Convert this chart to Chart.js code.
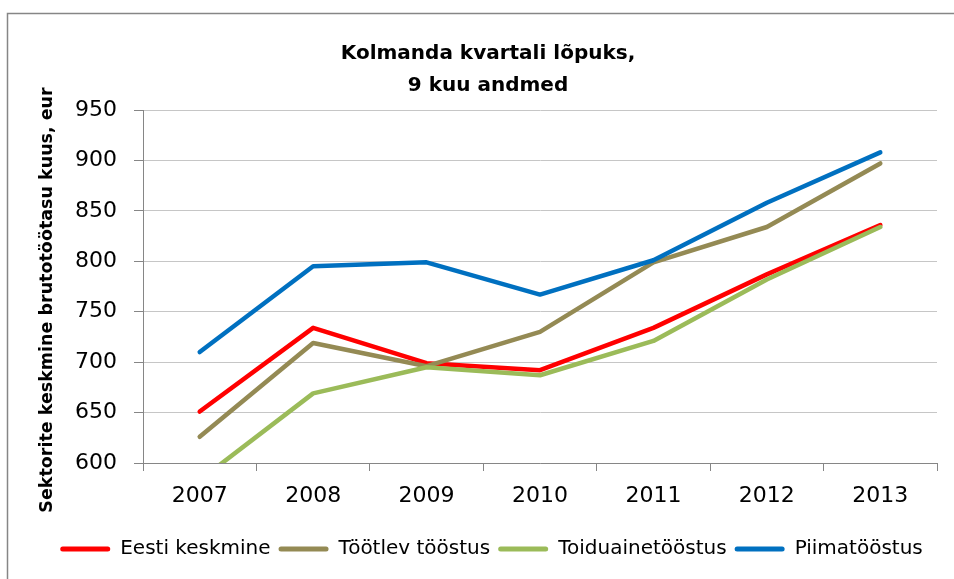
<!DOCTYPE html>
<html>
<head>
<meta charset="utf-8">
<script src="https://cdn.jsdelivr.net/npm/chart.js@4/dist/chart.umd.min.js"></script>
<style>
  html, body { margin: 0; padding: 0; background: #ffffff; }
  #wrap { width: 954px; height: 579px; position: relative; }
</style>
</head>
<body>
<div id="wrap"><canvas id="c" width="954" height="579"></canvas></div>
<script>
const categories = ["2007", "2008", "2009", "2010", "2011", "2012", "2013"];
const seriesNames = ["Eesti keskmine", "Töötlev tööstus", "Toiduainetööstus", "Piimatööstus"];
const eestiKeskmine = [651, 734, 699, 692, 734, 787, 836];
const tootlevToostus = [626, 719, 696, 730, 799, 834, 897];
const toiduaineToostus = [583, 669, 695, 687, 721, 782, 834];
const piimaToostus = [710, 795, 799, 767, 801, 858, 908];
const titleLines = ["Kolmanda kvartali lõpuks,", "9 kuu andmed"];
const yAxisTitle = "Sektorite keskmine brutotöötasu kuus, eur";
const yMin = 600, yMax = 950, yStep = 50;

const colors = ["#FF0000", "#948A54", "#9BBB59", "#0070C0"];
const seriesValues = [eestiKeskmine, tootlevToostus, toiduaineToostus, piimaToostus];
const FONT = "'DejaVu Sans', sans-serif";

const decorPlugin = {
  id: 'decor',
  afterLayout(chart) {
    const lg = chart.legend;
    if (lg) { lg.left += 23; lg.right += 23; }
  },
  beforeDraw(chart) {
    const ctx = chart.ctx;
    ctx.save();
    ctx.fillStyle = '#ffffff';
    ctx.fillRect(0, 0, chart.width, chart.height);
    ctx.strokeStyle = '#868686';
    ctx.lineWidth = 1.5;
    ctx.beginPath();
    ctx.moveTo(7.5, chart.height + 2);
    ctx.lineTo(7.5, 13.5);
    ctx.lineTo(chart.width + 2, 13.5);
    ctx.stroke();
    ctx.restore();
  },
  afterDraw(chart) {
    const ctx = chart.ctx;
    ctx.save();
    ctx.fillStyle = '#000000';
    ctx.font = "bold 20px " + FONT;
    ctx.textAlign = 'center';
    ctx.textBaseline = 'alphabetic';
    ctx.fillText(titleLines[0], 488, 59);
    ctx.fillText(titleLines[1], 488, 91);
    ctx.translate(52, 300);
    ctx.rotate(-Math.PI / 2);
    ctx.font = "bold 17.5px " + FONT;
    ctx.textBaseline = 'alphabetic';
    ctx.fillText(yAxisTitle, 0, 0);
    ctx.restore();
  }
};

const datasets = seriesNames.map((name, i) => ({
  label: name,
  data: seriesValues[i],
  borderColor: colors[i],
  backgroundColor: colors[i],
  borderWidth: 4.5,
  borderCapStyle: 'round',
  borderJoinStyle: 'round',
  pointRadius: 0,
  pointHoverRadius: 0,
  tension: 0,
  fill: false,
  clip: 0,
  order: seriesNames.length - i
}));

new Chart(document.getElementById('c'), {
  type: 'line',
  data: { labels: categories, datasets: datasets },
  plugins: [decorPlugin],
  options: {
    responsive: false,
    animation: false,
    events: [],
    layout: { padding: { top: 110, right: 17, bottom: 10, left: 0 } },
    plugins: {
      title: { display: false },
      tooltip: { enabled: false },
      legend: {
        display: true,
        position: 'bottom',
        labels: {
          boxWidth: 50,
          boxHeight: 5,
          padding: 8,
          color: '#000000',
          font: { family: FONT, size: 20 },
          useBorderRadius: true,
          borderRadius: 2.5,
          sort: (a, b) => a.datasetIndex - b.datasetIndex,
          generateLabels(chart) {
            return chart.data.datasets.map((ds, i) => ({
              text: ds.label,
              fillStyle: ds.borderColor,
              strokeStyle: ds.borderColor,
              lineWidth: 0,
              hidden: false,
              datasetIndex: i,
              borderRadius: 2.5
            }));
          }
        }
      }
    },
    scales: {
      x: {
        type: 'category',
        offset: true,
        afterFit(scale) { scale.height = 68; },
        grid: {
          display: true,
          drawOnChartArea: false,
          drawTicks: true,
          tickLength: 8,
          tickColor: '#868686',
          tickWidth: 1,
          offset: true
        },
        border: { display: true, color: '#868686', width: 1 },
        ticks: {
          color: '#000000',
          font: { family: FONT, size: 22 },
          padding: 12,
          maxRotation: 0,
          autoSkip: false
        }
      },
      y: {
        min: yMin,
        max: yMax,
        afterFit(scale) { scale.width = 143; },
        grid: {
          color: '#C6C6C6',
          lineWidth: 1,
          drawTicks: true,
          tickLength: 9,
          tickColor: '#868686'
        },
        border: { display: true, color: '#868686', width: 1 },
        ticks: {
          stepSize: yStep,
          color: '#000000',
          font: { family: FONT, size: 22 },
          padding: 17
        }
      }
    }
  }
});
</script>
</body>
</html>
